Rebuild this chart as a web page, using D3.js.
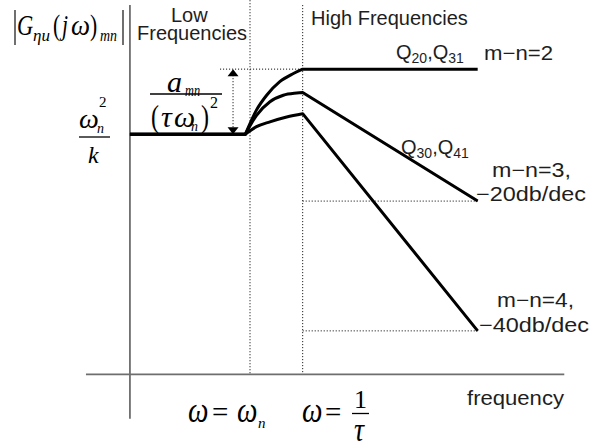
<!DOCTYPE html>
<html>
<head>
<meta charset="utf-8">
<script src="https://cdn.jsdelivr.net/npm/d3@7"></script>
<style>
  body { margin: 0; background: #fff; }
  svg { display: block; }
</style>
</head>
<body>
<svg id="chart"></svg>
<script>
// Asymptotic magnitude of G_ηu(jω)_mn, frequency normalised so ω_n = 1,
// gain in dB relative to the low-frequency level ω_n²/k.
const omegaN = 1;
const omegaTau = 2;        // ω = 1/τ
const omegaEnd = 20;       // one decade past 1/τ

// low-frequency plateau
const lowFreq = [0.206, 0.94];
const lowGain = [0, 0];

// resonant rise between ω_n and 1/τ
const riseFreqM2 = [0.94, 1.09, 1.245, 1.48, 1.77, 2];
const riseGainM2 = [0, 4.5, 7.2, 9.7, 11.2, 12];
const riseFreqM3 = [0.94, 1.09, 1.30, 1.55, 1.85, 2];
const riseGainM3 = [0, 3.5, 6.0, 7.2, 7.6, 7.7];
const riseFreqM4 = [0.94, 1.09, 1.30, 1.62, 2];
const riseGainM4 = [0, 1.4, 2.3, 3.2, 3.8];

// high-frequency asymptotes: 0, -20 and -40 dB/dec
const highFreq = [2, 20];
const highGainM2 = [12, 12];
const highGainM3 = [7.7, -12.3];
const highGainM4 = [3.8, -36.2];

// axes and guides (data units)
const xAxisFreq = [0.1155, 62.5];
const xAxisGain = -44.2;
const yAxisFreq = 0.206;
const yAxisGain = [23.8, -52.4];
const arrowFreq = 0.8;
const arrowGain = [0, 12];
const guideTopGain = 24.7;

const svg = d3.select("#chart").attr("width", 616).attr("height", 448);

const x = d3.scaleLog().domain([0.1, 100]).range([75, 600]);
const y = d3.scaleLinear().domain([0, -40]).range([134.3, 351.5]);

const pts = (f, g) => f.map((v, i) => [x(v), y(g[i])]);
const straight = d3.line();
const smooth = d3.line().curve(d3.curveMonotoneX);

const DOT = "1.1,1.9";
const guides = svg.append("g")
  .attr("fill", "none").attr("stroke", "#111")
  .attr("stroke-width", 1).attr("stroke-dasharray", DOT);

// vertical guides at ω_n and 1/τ
guides.append("path").attr("d", straight(pts([omegaN, omegaN], [guideTopGain, xAxisGain])));
guides.append("path").attr("d", straight(pts([omegaTau, omegaTau], [yAxisGain[0], xAxisGain])));
// horizontal guides
guides.append("path").attr("d", straight(pts([0.674, omegaTau], [highGainM2[0], highGainM2[0]])));
guides.append("path").attr("d", straight(pts([omegaTau, omegaEnd], [highGainM3[1], highGainM3[1]])));
guides.append("path").attr("d", straight(pts([omegaTau, omegaEnd], [highGainM4[1], highGainM4[1]])));

// axes
const axes = svg.append("g").attr("stroke", "#6e6e6e").attr("stroke-width", 1.8).attr("fill", "none");
axes.append("path").attr("d", straight(pts(xAxisFreq, [xAxisGain, xAxisGain])));
axes.append("path").attr("d", straight(pts([yAxisFreq, yAxisFreq], yAxisGain)));

// amplitude-gap arrow
const ax = x(arrowFreq), ay0 = y(arrowGain[0]), ay1 = y(arrowGain[1]);
svg.append("path")
  .attr("d", straight([[ax, ay1 + 6], [ax, ay0 - 6]]))
  .attr("stroke", "#111").attr("stroke-width", 1).attr("stroke-dasharray", DOT).attr("fill", "none");
svg.append("path")
  .attr("d", `M${ax},${ay1}L${ax - 5.5},${ay1 + 7}L${ax + 5.5},${ay1 + 7}Z`)
  .attr("fill", "#000");
svg.append("path")
  .attr("d", `M${ax},${ay0}L${ax - 5.5},${ay0 - 7}L${ax + 5.5},${ay0 - 7}Z`)
  .attr("fill", "#000");

// magnitude curves
const series = [
  { rf: riseFreqM2, rg: riseGainM2, hg: highGainM2 },
  { rf: riseFreqM3, rg: riseGainM3, hg: highGainM3 },
  { rf: riseFreqM4, rg: riseGainM4, hg: highGainM4 }
];
series.forEach(s => {
  const d = straight(pts(lowFreq, lowGain)) +
    smooth(pts(s.rf, s.rg)).replace(/^M/, "L") +
    straight(pts(highFreq, s.hg)).replace(/^M/, "L");
  svg.append("path").attr("d", d)
    .attr("fill", "none").attr("stroke", "#000")
    .attr("stroke-width", 3).attr("stroke-linejoin", "round");
});

// plain-text labels
const SANS = "'Liberation Sans', Arial, sans-serif";
const label = (t, tx, ty, len) => {
  const el = svg.append("text").attr("x", tx).attr("y", ty)
    .attr("font-family", SANS).attr("font-size", 20).attr("fill", "#1e1e1e").text(t);
  if (len) el.attr("textLength", len).attr("lengthAdjust", "spacingAndGlyphs");
  return el;
};
label("Low", 171, 21.7);
label("Frequencies", 137, 40);
label("High Frequencies", 311, 24.5);
label("m\u2212n=2", 484, 60, 69);
label("m\u2212n=3,", 492, 176.5, 79);
label("\u221220db/dec", 476, 200.5, 110);
label("m\u2212n=4,", 497, 306.5, 77);
label("\u221240db/dec", 479, 331.5, 110);
label("frequency", 467, 405, 97);

const qLabel = (tx, ty, a, b) => {
  const t = svg.append("text").attr("x", tx).attr("y", ty)
    .attr("font-family", SANS).attr("font-size", 20).attr("fill", "#1e1e1e");
  t.append("tspan").text("Q");
  t.append("tspan").attr("font-size", 14).attr("dy", 4).text(a);
  t.append("tspan").attr("dy", -4).text(",Q");
  t.append("tspan").attr("font-size", 14).attr("dy", 4).text(b);
};
qLabel(396, 59, "20", "31");
qLabel(401, 154, "30", "41");

// math annotations
const SERIF = "'Liberation Serif', 'Times New Roman', serif";
const math = (parts) => parts.forEach(p => {
  svg.append("text")
    .attr("transform", `translate(${p.x},${p.y}) scale(${p.sx || 1},${p.sy || 1})`)
    .attr("font-family", SERIF).attr("font-size", p.s)
    .attr("font-style", p.i ? "italic" : "normal")
    .attr("fill", "#000").text(p.t);
});
const rule = (x0, x1, yy, w) => svg.append("line")
  .attr("x1", x0).attr("x2", x1).attr("y1", yy).attr("y2", yy)
  .attr("stroke", "#000").attr("stroke-width", w || 1.3);
const bar = (xx, y0, y1) => svg.append("line")
  .attr("x1", xx).attr("x2", xx).attr("y1", y0).attr("y2", y1)
  .attr("stroke", "#222").attr("stroke-width", 1.3);

// |G_ηu(jω)_mn|
bar(15, 10, 45);
bar(123, 10, 45);
math([
  { t: "G", x: 17, y: 35, s: 30, i: 1, sx: 0.75 },
  { t: "ηu", x: 33, y: 41, s: 17, i: 1 },
  { t: "(", x: 53, y: 35, s: 30, sx: 0.72 },
  { t: "j", x: 62, y: 35, s: 30, i: 1, sx: 0.72 },
  { t: "ω", x: 71, y: 35, s: 30, i: 1, sx: 0.9 },
  { t: ")", x: 90, y: 35, s: 30, sx: 0.72 },
  { t: "mn", x: 100, y: 41, s: 17, i: 1, sx: 0.82 }
]);

// ω_n² / k
math([
  { t: "ω", x: 79, y: 128, s: 28, i: 1 },
  { t: "n", x: 97, y: 133, s: 14, i: 1 },
  { t: "2", x: 99, y: 107, s: 15 },
  { t: "k", x: 88, y: 163, s: 24, i: 1 }
]);
rule(79, 110, 137);

// a_mn / (τω_n)²
math([
  { t: "a", x: 167, y: 92, s: 30, i: 1 },
  { t: "mn", x: 185, y: 96, s: 16, i: 1, sx: 0.77 },
  { t: "(", x: 151, y: 127, s: 32, sx: 0.75 },
  { t: "τ", x: 161, y: 127, s: 30, i: 1 },
  { t: "ω", x: 174, y: 127, s: 30, i: 1 },
  { t: "n", x: 191, y: 131, s: 14, i: 1 },
  { t: ")", x: 201, y: 127, s: 32, sx: 0.75 },
  { t: "2", x: 210, y: 108, s: 16 }
]);
rule(150, 222, 94);

// ω = ω_n   and   ω = 1/τ
math([
  { t: "ω", x: 188, y: 422, s: 29, i: 1, sy: 1.25 },
  { t: "=", x: 212, y: 422, s: 29 },
  { t: "ω", x: 237, y: 422, s: 29, i: 1, sy: 1.25 },
  { t: "n", x: 258, y: 428, s: 15, i: 1 },
  { t: "ω", x: 302, y: 422, s: 29, i: 1, sy: 1.25 },
  { t: "=", x: 325, y: 422, s: 29 },
  { t: "1", x: 354, y: 408, s: 26 },
  { t: "τ", x: 354, y: 441, s: 28, i: 1, sy: 1.2 }
]);
rule(352, 369, 413.5);
</script>
</body>
</html>
